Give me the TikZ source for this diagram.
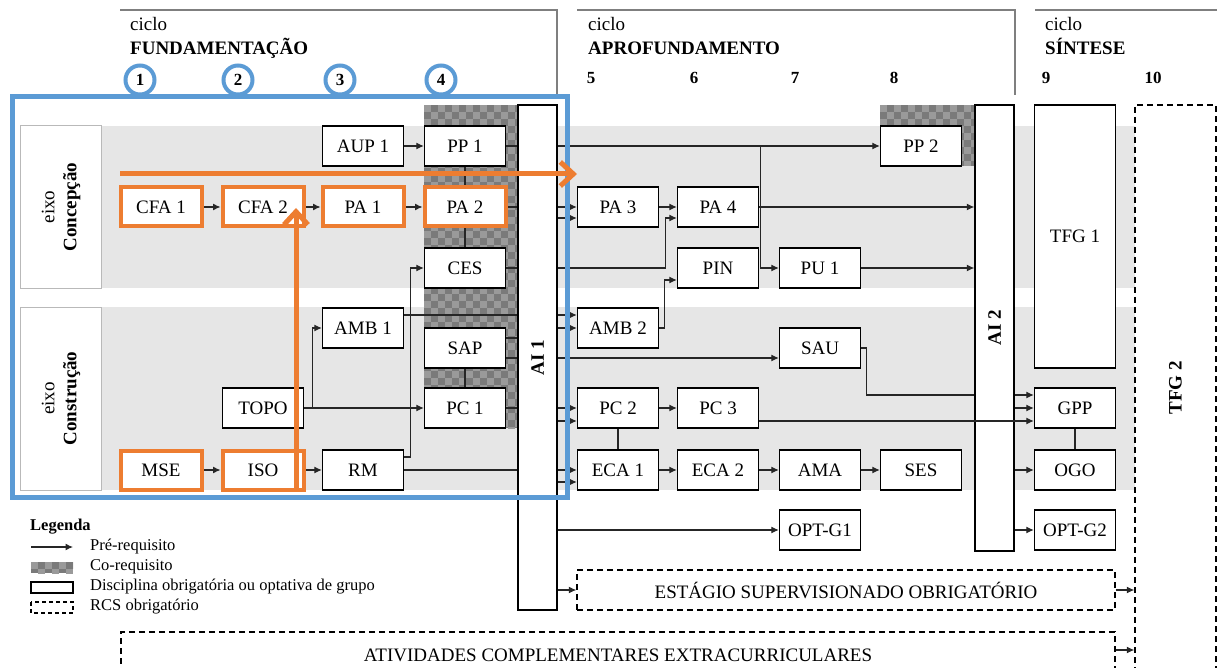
\documentclass[tikz,border=0pt]{standalone}
\usepackage{fontspec}
\setmainfont{Liberation Serif}
\usetikzlibrary{arrows.meta}
\pgfdeclarelayer{bg}
\pgfdeclarelayer{lines}
\pgfdeclarelayer{top}
\pgfsetlayers{bg,lines,main,top}
\definecolor{blueA}{HTML}{5B9BD5}
\definecolor{orangeA}{HTML}{ED7D31}
\definecolor{bandgray}{HTML}{E6E6E6}
\definecolor{chkA}{HTML}{7A7A7A}
\definecolor{chkB}{HTML}{9A9A9A}
\definecolor{lineC}{HTML}{262626}
\definecolor{brk}{HTML}{7F7F7F}
\newcommand\boxfnt{\fontsize{19}{22}\selectfont}
\newcommand\legfnt{\fontsize{16.5}{19}\selectfont}
\newcommand\chkfill[4]{%
  \begin{scope}
  \clip (#1,#2) rectangle (#3,#4);
  \fill[chkA] (#1,#2) rectangle (#3,#4);
  \pgfmathtruncatemacro\chknx{(#3-#1)/7}%
  \pgfmathtruncatemacro\chkny{(#4-#2)/7}%
  \foreach \i in {0,...,\chknx}{\foreach \j in {0,...,\chkny}{%
    \pgfmathtruncatemacro\chkk{mod(\i+\j,2)}%
    \ifnum\chkk=0 \fill[chkB] ({#1+7*\i},{#2+7*\j}) rectangle +(7,7);\fi}}
  \end{scope}}
\begin{document}
\begin{tikzpicture}[x=1pt,y=-1pt,
  box/.style={draw=black,line width=1.4pt,fill=white,minimum width=81pt,minimum height=40pt,inner sep=0pt,font=\boxfnt},
  obox/.style={box,draw=orangeA,line width=4pt,minimum width=81pt,minimum height=39pt},
  dbox/.style={box,dash pattern=on 6pt off 4pt},
  lbox/.style={draw=gray!55,line width=1pt,fill=white,minimum width=81pt,inner sep=0pt,font=\boxfnt},
  ln/.style={draw=lineC,line width=1.1pt},
  arr/.style={ln,-{Latex[length=7.5pt,width=7pt]}},
  oarr/.style={draw=orangeA,line width=5pt,-{Straight Barb[length=13pt,width=24pt]}},
  bcirc/.style={circle,draw=blueA,line width=4pt,fill=white,minimum size=29pt,inner sep=0pt,font=\fontsize{17}{20}\selectfont\bfseries},
  hnum/.style={anchor=base,inner sep=0pt,font=\fontsize{17}{20}\selectfont\bfseries},
  htxt/.style={anchor=base west,inner sep=0pt,font=\fontsize{19}{22}\selectfont},
  leg/.style={anchor=west,inner sep=0pt,font=\legfnt},
  brline/.style={draw=brk,line width=2pt}
]
\useasboundingbox (0,0) rectangle (1217,668);

% ---------- background: bands and co-requisite areas
\begin{pgfonlayer}{bg}
\fill[bandgray] (20,126) rectangle (1135,288);
\fill[bandgray] (20,307) rectangle (1135,490);
\chkfill{424}{105}{517}{428}
\chkfill{880}{105}{975}{166}
\end{pgfonlayer}

% ---------- header
\draw[brline] (120,10) -- (557,10) -- (557,95);
\draw[brline] (577,10) -- (1015,10) -- (1015,95);
\draw[brline] (1035,10) -- (1217,10);
\node[htxt] (hc1) at (130,31) {ciclo};
\node[htxt] (hf1) at (130,55) {\bfseries FUNDAMENTAÇÃO};
\node[htxt] (hc2) at (588,31) {ciclo};
\node[htxt] (hf2) at (588,55) {\bfseries APROFUNDAMENTO};
\node[htxt] (hc3) at (1045,31) {ciclo};
\node[htxt] (hf3) at (1045,55) {\bfseries SÍNTESE};
\node[hnum] (n5) at (591,84) {5};
\node[hnum] (n6) at (694,84) {6};
\node[hnum] (n7) at (795,84) {7};
\node[hnum] (n8) at (894,84) {8};
\node[hnum] (n9) at (1046,84) {9};
\node[hnum] (n10) at (1153,84) {10};

% ---------- axis labels
\node[lbox,minimum height=162pt] (EC) at (61,207) {\rotatebox{90}{\begin{tabular}{@{}c@{}}eixo\\\textbf{Concepção}\end{tabular}}};
\node[lbox,minimum height=183pt] (ECo) at (61,398.5) {\rotatebox{90}{\begin{tabular}{@{}c@{}}eixo\\\textbf{Construção}\end{tabular}}};

% ---------- disciplines
\node[box] (AUP1) at (363,146) {AUP 1};
\node[box] (PP1) at (465,146) {PP 1};
\node[box] (PP2) at (921,146) {PP 2};
\node[obox] (CFA1) at (161,207) {CFA 1};
\node[obox] (CFA2) at (263,207) {CFA 2};
\node[obox] (PA1) at (363,207) {PA 1};
\node[obox] (PA2) at (465,207) {PA 2};
\node[box] (PA3) at (618,207) {PA 3};
\node[box] (PA4) at (718,207) {PA 4};
\node[box] (CES) at (465,268) {CES};
\node[box] (PIN) at (718,268) {PIN};
\node[box] (PU1) at (820,268) {PU 1};
\node[box] (AMB1) at (363,328) {AMB 1};
\node[box] (AMB2) at (618,328) {AMB 2};
\node[box] (SAP) at (465,348) {SAP};
\node[box] (SAU) at (820,348) {SAU};
\node[box] (TOPO) at (263,408) {TOPO};
\node[box] (PC1) at (465,408) {PC 1};
\node[box] (PC2) at (618,408) {PC 2};
\node[box] (PC3) at (718,408) {PC 3};
\node[box] (GPP) at (1075,408) {GPP};
\node[obox] (MSE) at (161,470) {MSE};
\node[obox] (ISO) at (263,470) {ISO};
\node[box] (RM) at (363,470) {RM};
\node[box] (ECA1) at (618,470) {ECA 1};
\node[box] (ECA2) at (718,470) {ECA 2};
\node[box] (AMA) at (820,470) {AMA};
\node[box] (SES) at (921,470) {SES};
\node[box] (OGO) at (1075,470) {OGO};
\node[box] (OPTG1) at (820,530) {OPT-G1};
\node[box] (OPTG2) at (1075,530) {OPT-G2};
\node[box,minimum width=39pt,minimum height=505pt] (AI1) at (537.5,357.5) {\rotatebox{90}{\textbf{AI 1}}};
\node[box,minimum width=39pt,minimum height=446pt] (AI2) at (994.5,328) {\rotatebox{90}{\textbf{AI 2}}};
\node[box,minimum height=263pt] (TFG1) at (1075,236.5) {TFG 1};
\node[dbox,minimum height=566pt] (TFG2) at (1175.5,388) {\rotatebox{90}{\textbf{TFG 2}}};
\node[dbox,minimum width=538pt] (EST) at (846,590) {ESTÁGIO SUPERVISIONADO OBRIGATÓRIO};
\node[dbox,minimum width=994pt,minimum height=46pt] (ATIV) at (618,655) {ATIVIDADES COMPLEMENTARES EXTRACURRICULARES};

% ---------- ports
\coordinate (pa3b) at ([yshift=-11pt]PA3.west);
\coordinate (pa4b) at ([yshift=-11pt]PA4.west);
\coordinate (pa4j) at ([xshift=-11pt,yshift=-11pt]PA4.west);
\coordinate (pinb) at ([yshift=-12pt]PIN.west);
\coordinate (pinj) at ([xshift=-12pt,yshift=-12pt]PIN.west);
\coordinate (pujn) at ([xshift=-18pt]PU1.west |- PP1.east);
\coordinate (amb1t) at ([yshift=13pt]AMB1.east);
\coordinate (amb2t) at ([yshift=13pt]AMB2.west);
\coordinate (sapt) at ([yshift=10pt]SAP.east);
\coordinate (sapb) at ([yshift=-10pt]SAP.east);
\coordinate (saub) at ([yshift=-10pt]SAU.west);
\coordinate (sauj) at ([xshift=5pt]SAU.east);
\coordinate (gppt) at ([yshift=13pt]GPP.west);
\coordinate (gppb) at ([yshift=-13pt]GPP.west);
\coordinate (pc2b) at ([yshift=-13pt]PC2.west);
\coordinate (pc3b) at ([yshift=-13pt]PC3.east);
\coordinate (eca1b) at ([yshift=-12pt]ECA1.west);
\coordinate (rmt) at ([yshift=13pt]RM.east);
\coordinate (cesin) at ([xshift=-13pt]CES.west);
\coordinate (topoj) at ([xshift=-9pt]AMB1.west |- TOPO.east);
\coordinate (atvp) at ([yshift=5pt]ATIV.east);

% ---------- connectors
\begin{pgfonlayer}{lines}
\draw[arr] (AUP1) -- (PP1);
\draw[arr] (PP1.east) -- (PP2.west);
\draw[arr] (pujn) |- (PU1.west);
\draw[ln] (PP1) -- (PA2);
\draw[ln] (PA2) -- (CES);
\draw[arr] (CFA1) -- (CFA2);
\draw[arr] (CFA2) -- (PA1);
\draw[arr] (PA1) -- (PA2);
\draw[arr] (PA2.east) -- (PA3.west);
\draw[arr] (AI1.east |- pa3b) -- (pa3b);
\draw[ln] (CES.east) -- (AI1.west |- CES.east);
\draw[arr] (AI1.east |- CES.east) -| (pa4j) -- (pa4b);
\draw[arr] (PA3) -- (PA4);
\draw[arr] (PA4.east) -- (AI2.west |- PA4.east);
\draw[arr] (PU1.east) -- (AI2.west |- PU1.east);
\draw[arr] (AMB2.east) -| (pinj) -- (pinb);
\draw[arr] (amb1t) -- (amb2t);
\draw[arr] (AI1.east |- AMB2.west) -- (AMB2.west);
\draw[ln] (sapt) -- (AI1.west |- sapt);
\draw[arr] (sapb) -- (saub);
\draw[arr] (TOPO) -- (PC1);
\draw[arr] (topoj) |- (AMB1.west);
\draw[arr] (rmt) -| (cesin) -- (CES.west);
\draw[ln] (SAP) -- (PC1);
\draw[arr] (PC1.east) -- (PC2.west);
\draw[arr] (AI1.east |- pc2b) -- (pc2b);
\draw[arr] (MSE) -- (ISO);
\draw[arr] (ISO) -- (RM);
\draw[arr] (RM.east) -- (ECA1.west);
\draw[arr] (AI1.east |- eca1b) -- (eca1b);
\draw[arr] (PC2) -- (PC3);
\draw[ln] (PC2) -- (ECA1);
\draw[arr] (ECA1) -- (ECA2);
\draw[arr] (ECA2) -- (AMA);
\draw[arr] (AMA) -- (SES);
\draw[arr] (SAU.east) -- (sauj) |- (gppt);
\draw[arr] (AI2.east |- GPP.west) -- (GPP.west);
\draw[ln] (GPP) -- (OGO);
\draw[arr] (AI2.east |- OGO.west) -- (OGO.west);
\draw[arr] (AI2.east |- OPTG2.west) -- (OPTG2.west);
\draw[arr] (AI1.east |- OPTG1.west) -- (OPTG1.west);
\draw[arr] (AI1.east |- EST.west) -- (EST.west);
\draw[arr] (EST.east) -- (TFG2.west |- EST.east);
\draw[arr] (atvp) -- (TFG2.west |- atvp);
\end{pgfonlayer}

% ---------- top: crossing line, highlight frame, orange arrows
\begin{pgfonlayer}{top}
\draw[arr] (pc3b) -- (gppb);
\draw[blueA,line width=5pt] (12,97) rectangle (567,497);
\node[bcirc] (k1) at (140,80) {1};
\node[bcirc] (k2) at (238,80) {2};
\node[bcirc] (k3) at (340,80) {3};
\node[bcirc] (k4) at (441,80) {4};
\coordinate (oh1) at (120,174);
\coordinate (oh2) at (577,174);
\draw[oarr] (oh1) -- (oh2);
\coordinate (ov1) at (296,491);
\coordinate (ov2) at (296,208);
\draw[oarr] (ov1) -- (ov2);
\end{pgfonlayer}

% ---------- legend
\node[anchor=west,inner sep=0pt,font=\legfnt\bfseries] (legT) at (30,527) {Legenda};
\coordinate (la1) at (31,547);
\coordinate (la2) at (73,547);
\draw[arr] (la1) -- (la2);
\chkfill{31}{562}{73}{573}
\draw[line width=1.3pt] (31,582) rectangle (73,593);
\draw[line width=1.3pt,dash pattern=on 4pt off 3pt] (31,602) rectangle (73,613);
\node[leg] (l1) at (90,547) {Pré-requisito};
\node[leg] (l2) at (90,567) {Co-requisito};
\node[leg] (l3) at (90,587) {Disciplina obrigatória ou optativa de grupo};
\node[leg] (l4) at (90,607) {RCS obrigatório};
\end{tikzpicture}
\end{document}
